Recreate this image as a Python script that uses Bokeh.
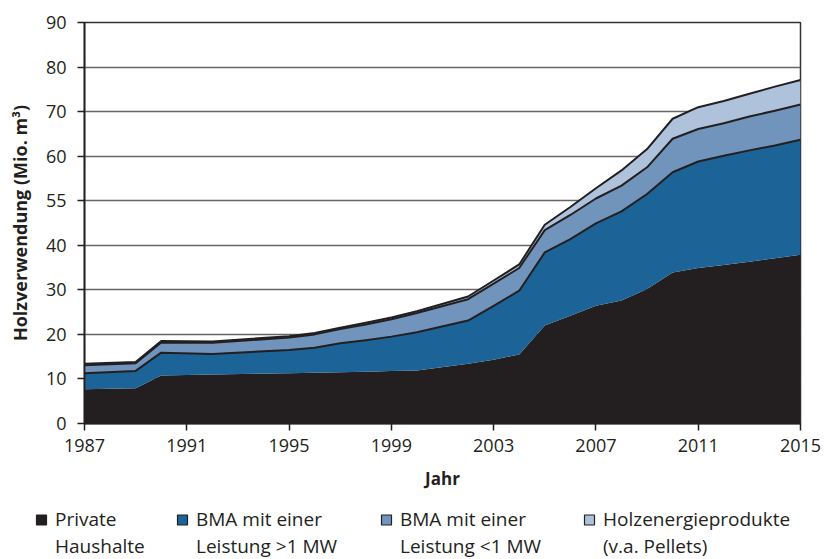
import numpy as np
from bokeh.plotting import figure
from bokeh.layouts import column
from bokeh.models import ColumnDataSource, FixedTicker, Legend, LegendItem, Range1d
from bokeh.embed import file_html
from bokeh.resources import INLINE

# ---------------- data ----------------
years = [1987, 1989, 1990, 1992, 1995, 1996, 1997, 1998, 1999, 2000, 2002, 2003,
         2004, 2005, 2006, 2007, 2008, 2009, 2010, 2011, 2012, 2013, 2014, 2015]
private_haushalte = [7.7, 7.9, 10.8, 11.0, 11.3, 11.4, 11.5, 11.6, 11.8, 11.9, 13.4, 14.3,
                     15.5, 22.0, 24.2, 26.4, 27.6, 30.2, 33.9, 34.9, 35.6, 36.3, 37.1, 37.9]
bma_gt_1mw = [3.6, 3.9, 5.1, 4.6, 5.2, 5.6, 6.5, 7.1, 7.7, 8.6, 9.7, 12.1,
              14.3, 16.4, 17.2, 18.5, 20.0, 21.3, 22.5, 23.9, 24.5, 25.0, 25.3, 25.8]
bma_lt_1mw = [1.8, 1.7, 2.3, 2.5, 2.8, 3.0, 3.2, 3.5, 3.9, 4.3, 4.8, 5.0,
              5.1, 5.0, 5.4, 5.6, 5.8, 6.0, 7.5, 7.3, 7.3, 7.6, 7.8, 7.9]
pellets = [0.3, 0.3, 0.3, 0.3, 0.3, 0.3, 0.3, 0.4, 0.4, 0.4, 0.6, 0.7,
           0.8, 1.2, 1.8, 2.3, 3.4, 4.1, 4.5, 4.9, 5.0, 5.1, 5.4, 5.5]

series_names = ["private", "bma_gt", "bma_lt", "pellets"]
series_label_lines = [("Private", "Haushalte"),
                      ("BMA mit einer", "Leistung >1 MW"),
                      ("BMA mit einer", "Leistung <1 MW"),
                      ("Holzenergieprodukte", "(v.a. Pellets)")]
x_ticks = [1987, 1991, 1995, 1999, 2003, 2007, 2011, 2015]
y_ticks = [0, 10, 20, 30, 40, 50, 60, 70, 80, 90]
y_tick_labels = ["0", "10", "20", "30", "40", "55", "60", "70", "80", "90"]

# ---------------- styles ----------------
colors = ["#231f20", "#1c6397", "#7094bc", "#afc2dc"]
ink = "#231f20"
FONT = "Open Sans"
W = 825

source = ColumnDataSource(dict(year=years, private=private_haushalte, bma_gt=bma_gt_1mw,
                               bma_lt=bma_lt_1mw, pellets=pellets))

p = figure(width=W, height=505, output_backend="svg", toolbar_location=None,
           x_range=Range1d(1987, 2015), y_range=Range1d(0, 90),
           min_border_left=84, min_border_right=25, min_border_top=22, min_border_bottom=82)
p.frame_align = False
p.background_fill_color = "white"
p.border_fill_color = "white"
p.outline_line_color = "#333333"
p.outline_line_width = 1.5

p.varea_stack(stackers=series_names, x="year", color=colors, source=source)

# boundary lines on top of the blue layers
cum = np.cumsum(np.array([private_haushalte, bma_gt_1mw, bma_lt_1mw, pellets]), axis=0)
for k in range(1, 4):
    p.line(years, cum[k], line_color=ink, line_width=2, line_join="round")

# axes
p.xaxis.ticker = FixedTicker(ticks=x_ticks)
p.yaxis.ticker = FixedTicker(ticks=y_ticks)
p.yaxis.major_label_overrides = {t: l for t, l in zip(y_ticks, y_tick_labels)}
p.xaxis.axis_label = "Jahr"
p.yaxis.axis_label = "Holzverwendung (Mio. m³)"
for ax in (p.xaxis, p.yaxis):
    ax.axis_line_color = ink
    ax.axis_line_width = 1.8
    ax.major_tick_line_color = ink
    ax.major_tick_line_width = 1.5
    ax.major_tick_out = 7
    ax.major_tick_in = 0
    ax.minor_tick_out = 0
    ax.minor_tick_in = 0
    ax.major_label_text_font = FONT
    ax.major_label_text_font_size = "18px"
    ax.major_label_text_color = ink
    ax.axis_label_text_font = FONT
    ax.axis_label_text_font_style = "bold"
    ax.axis_label_text_color = ink
p.yaxis.axis_label_text_font_size = "18px"
p.xaxis.axis_label_text_font_size = "17px"
p.yaxis.major_label_standoff = 11
p.xaxis.major_label_standoff = 8
p.yaxis.axis_label_standoff = 11
p.xaxis.axis_label_standoff = 12

p.xgrid.grid_line_color = None
p.ygrid.ticker = FixedTicker(ticks=y_ticks)
p.ygrid.grid_line_color = "#666666"
p.ygrid.grid_line_width = 1.5

# ---------------- legend strip ----------------
lf = figure(width=W, height=54, output_backend="svg", toolbar_location=None,
            x_range=Range1d(0, 1), y_range=Range1d(0, 1),
            x_axis_location=None, y_axis_location=None,
            min_border_left=0, min_border_right=0, min_border_top=0, min_border_bottom=0)
lf.frame_align = False
lf.outline_line_color = None
lf.xgrid.visible = False
lf.ygrid.visible = False
lf.background_fill_color = "white"
lf.border_fill_color = "white"

legend_x = [27, 168, 372, 575]
for name, (line1, line2), col, lx in zip(series_names, series_label_lines, colors, legend_x):
    # swatch renderers kept outside the visible range; only their legend glyphs show
    swatch = lf.scatter(x=[-10], y=[-10], marker="square", fill_color=col,
                        line_color=ink, line_width=1.2)
    blank = lf.scatter(x=[-10], y=[-10], marker="square", fill_alpha=0, line_alpha=0)
    lg = Legend(items=[LegendItem(label=line1, renderers=[swatch]),
                       LegendItem(label=line2, renderers=[blank])],
                location=(lx, 0), orientation="vertical", spacing=1,
                padding=0, margin=0, border_line_color=None, background_fill_alpha=0,
                glyph_width=28, glyph_height=25, label_standoff=0, label_height=20,
                label_text_font=FONT, label_text_font_size="19px",
                label_text_line_height=1.0, label_text_color=ink)
    lf.add_layout(lg)

layout = column(p, lf, spacing=0)
open("out.html", "w").write(file_html(layout, INLINE))
